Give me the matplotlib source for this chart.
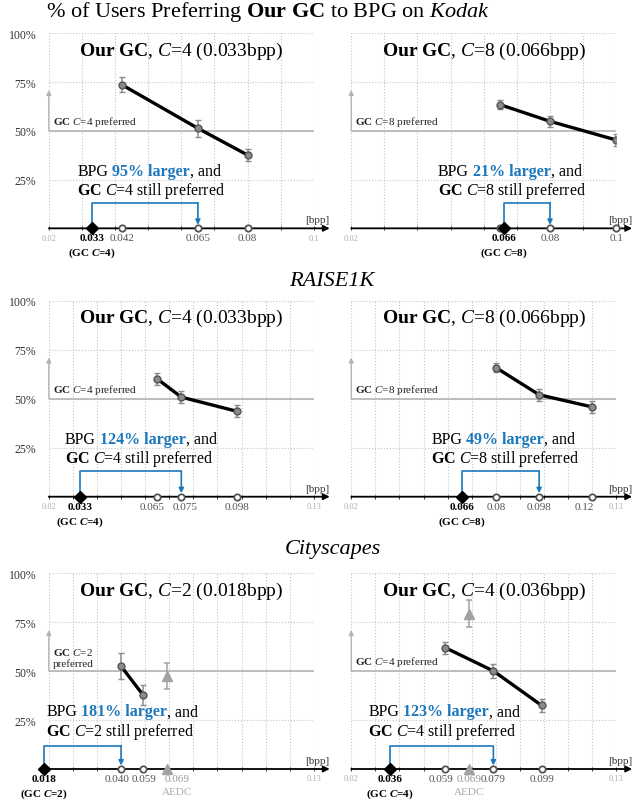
import matplotlib.pyplot as plt

plt.rcParams['font.family'] = ['Liberation Serif', 'DejaVu Serif']
plt.rcParams['mathtext.fontset'] = 'custom'
plt.rcParams['mathtext.rm'] = 'Liberation Serif'
plt.rcParams['mathtext.it'] = 'Liberation Serif:italic'
plt.rcParams['mathtext.bf'] = 'Liberation Serif:bold'
plt.rcParams['mathtext.bfit'] = 'Liberation Serif:italic:bold'

BLUE = '#1b78bd'
DARK = '#555555'
LIGHT = '#ababab'
REF = '#b4b4b4'

# Kodak, C=4
kodak4_gc_bpp = 0.033
kodak4_bpg_bpp = [0.042, 0.065, 0.08]
kodak4_labels = ['0.042', '0.065', '0.08']
kodak4_pref = [73.7, 51.3, 37.6]
kodak4_err = [3.8, 4.4, 3.0]
kodak4_larger = 95
kodak4_match = 0.065

# Kodak, C=8
kodak8_gc_bpp = 0.066
kodak8_bpg_bpp = [0.065, 0.08, 0.1]
kodak8_labels = ['', '0.08', '0.1']
kodak8_pref = [63.4, 54.9, 45.3]
kodak8_err = [2.4, 2.8, 2.9]
kodak8_larger = 21
kodak8_match = 0.08

# RAISE1K, C=4
raise4_gc_bpp = 0.033
raise4_bpg_bpp = [0.065, 0.075, 0.098]
raise4_labels = ['0.065', '0.075', '0.098']
raise4_pref = [60.1, 50.8, 43.6]
raise4_err = [3.0, 3.2, 3.1]
raise4_larger = 124
raise4_match = 0.075

# RAISE1K, C=8
raise8_gc_bpp = 0.066
raise8_bpg_bpp = [0.08, 0.098, 0.12]
raise8_labels = ['0.08', '0.098', '0.12']
raise8_pref = [65.9, 52.0, 45.8]
raise8_err = [2.3, 3.1, 3.1]
raise8_larger = 49
raise8_match = 0.098

# Cityscapes, C=2
city2_gc_bpp = 0.018
city2_bpg_bpp = [0.05, 0.059]
city2_labels = ['0.040', '0.059']
city2_pref = [52.5, 38.0]
city2_err = [6.7, 5.1]
city2_aedc = (0.069, 47.7, 6.7)
city2_larger = 181
city2_match = 0.05

# Cityscapes, C=4
city4_gc_bpp = 0.036
city4_bpg_bpp = [0.059, 0.079, 0.099]
city4_labels = ['0.059', '0.079', '0.099']
city4_pref = [62.0, 50.1, 32.5]
city4_err = [3.1, 3.4, 3.5]
city4_aedc = (0.069, 79.4, 7.0)
city4_larger = 123
city4_match = 0.079


def panel(ax, c, gc_bpp, bpp, labels, pref, err, larger, match, xmax,
          edge_ticks, text_x, bracket_y=13, aedc=None, left=True,
          pref_text=None, nudge=None, aedc_nudge=0):
    ax.set_xlim(0.02, xmax)
    ax.set_ylim(0, 100)
    n = int(round((xmax - 0.02) / 0.01))
    ax.set_xticks([0.02 + 0.01 * i for i in range(n + 1)])
    ax.set_yticks([25, 50, 75, 100])
    ax.grid(True, ls=':', color='#c4c4c4', lw=0.8)
    for s in ax.spines.values():
        s.set_visible(False)
    ax.tick_params(axis='x', direction='inout', length=3, width=0.7,
                   color='#333333', labelbottom=False)
    ax.tick_params(axis='y', length=0, pad=9, labelsize=8.5,
                   labelcolor='#333333', labelleft=left)
    if left:
        ax.set_yticklabels(['25%', '50%', '75%', '100%'])

    # x axis with arrow
    x_end = xmax + 0.06 * (xmax - 0.02)
    x_start = min(0.02, gc_bpp)
    ax.annotate('', xy=(x_end, 0), xytext=(x_start, 0),
                arrowprops=dict(arrowstyle='-|>', color='black', lw=1.3,
                                mutation_scale=9, shrinkA=0, shrinkB=0),
                annotation_clip=False, zorder=3)
    ax.text(x_end, 3, '[bpp]', ha='right', va='baseline', fontsize=8,
            color='#333333')

    # 50% reference and "preferred" arrow
    ax.plot([0.02, xmax], [50, 50], color=REF, lw=1.2, zorder=2)
    ax.annotate('', xy=(0.02, 71), xytext=(0.02, 50),
                arrowprops=dict(arrowstyle='-|>', color=REF, lw=1.0,
                                mutation_scale=7, shrinkA=0, shrinkB=0),
                annotation_clip=False)
    if pref_text is None:
        pref_text = r'$\mathbf{GC}$ $\mathit{C}$=%d preferred' % c
    ax.annotate(pref_text, xy=(0.02, 51.5), xytext=(3, 0),
                textcoords='offset points', ha='left', va='bottom',
                fontsize=8, color='#222222')

    # panel title
    ax.text((0.02 + xmax) / 2, 91.5,
            r'$\mathbf{Our\ GC}$, $\mathit{C}$=%d (%sbpp)' % (c, gc_bpp),
            ha='center', va='center', fontsize=14)

    # BPG curve
    ax.errorbar(bpp, pref, yerr=err, color='black', lw=2.4, marker='o',
                ms=5, mfc='#8a8a8a', mec='#555555', mew=1,
                ecolor='#8c8c8c', elinewidth=1.1, capsize=2.2, capthick=1.1,
                zorder=4)
    ax.plot(bpp, [0] * len(bpp), 'o', ms=4.6, mfc='white', mec='#555555',
            mew=1.3, clip_on=False, zorder=5)
    if nudge is None:
        nudge = [0] * len(bpp)
    for b, lab, dx in zip(bpp, labels, nudge):
        ax.annotate(lab, xy=(b, -2.5), xytext=(dx, 0),
                    textcoords='offset points', ha='center', va='top',
                    fontsize=8, color=DARK, annotation_clip=False)

    # AEDC
    if aedc is not None:
        ax.errorbar([aedc[0]], [aedc[1]], yerr=[aedc[2]], color='#a2a2a2',
                    marker='^', ms=7, elinewidth=1.1, capsize=2.2,
                    capthick=1.1, zorder=4)
        ax.plot([aedc[0]], [0], '^', ms=6.5, color='#a2a2a2',
                clip_on=False, zorder=5)
        ax.annotate('%.3f' % aedc[0], xy=(aedc[0], -2.5),
                    xytext=(aedc_nudge, 0), textcoords='offset points',
                    ha='center', va='top', fontsize=8, color='#9a9a9a',
                    annotation_clip=False)
        ax.annotate('AEDC', xy=(aedc[0], -9), xytext=(aedc_nudge, 0),
                    textcoords='offset points', ha='center', va='top',
                    fontsize=8, color='#aaaaaa', annotation_clip=False)

    for e in edge_ticks:
        ax.text(e, -2.8, '%g' % e, ha='center', va='top', fontsize=6,
                color=LIGHT)

    # GC point
    ax.plot([gc_bpp], [0], 'D', ms=6.5, color='black', clip_on=False,
            zorder=6)
    ax.text(gc_bpp, -2.5, '%s' % gc_bpp, ha='center', va='top',
            fontsize=8, fontweight='bold')
    ax.text(gc_bpp, -9, r'(GC $\mathbfit{C}$=%d)' % c, ha='center',
            va='top', fontsize=8, fontweight='bold')

    # bracket from GC bpp to matching BPG bpp
    ax.plot([gc_bpp, gc_bpp, match], [0, bracket_y, bracket_y], color=BLUE,
            lw=1.2, clip_on=False, zorder=5)
    ax.annotate('', xy=(match, 1.8), xytext=(match, bracket_y),
                arrowprops=dict(arrowstyle='-|>', color=BLUE, lw=1.2,
                                mutation_scale=7, shrinkA=0, shrinkB=0),
                zorder=5)

    # annotation text
    t1 = ax.text(text_x, 27.4, 'BPG', ha='left', va='baseline', fontsize=11.5)
    t2 = ax.annotate('%d%% larger' % larger, xy=(1, 0), xycoords=t1,
                     xytext=(3, 0), textcoords='offset points', ha='left',
                     va='bottom', fontsize=11.5, fontweight='bold',
                     color=BLUE)
    ax.annotate(', and', xy=(1, 0), xycoords=t2, ha='left', va='bottom',
                fontsize=11.5)
    ax.text(text_x, 17.6, r'$\mathbf{GC}$ $\mathit{C}$=%d still preferred' % c,
            ha='left', va='baseline', fontsize=11.5)


fig = plt.figure(figsize=(6.34, 8.03), dpi=100)

rows = [(0.7144, 0.2428), (0.3802, 0.2441), (0.0411, 0.2437)]
cols = [(0.077, 0.418), (0.554, 0.418)]

ax = fig.add_axes([cols[0][0], rows[0][0], cols[0][1], rows[0][1]])
panel(ax, 4, kodak4_gc_bpp, kodak4_bpg_bpp, kodak4_labels, kodak4_pref,
      kodak4_err, kodak4_larger, kodak4_match, 0.1, [0.02, 0.1], 0.0286)

ax = fig.add_axes([cols[1][0], rows[0][0], cols[1][1], rows[0][1]])
panel(ax, 8, kodak8_gc_bpp, kodak8_bpg_bpp, kodak8_labels, kodak8_pref,
      kodak8_err, kodak8_larger, kodak8_match, 0.1, [0.02], 0.0461,
      left=False)

ax = fig.add_axes([cols[0][0], rows[1][0], cols[0][1], rows[1][1]])
panel(ax, 4, raise4_gc_bpp, raise4_bpg_bpp, raise4_labels, raise4_pref,
      raise4_err, raise4_larger, raise4_match, 0.13, [0.02, 0.13], 0.0266,
      nudge=[-4, 3, 0])

ax = fig.add_axes([cols[1][0], rows[1][0], cols[1][1], rows[1][1]])
panel(ax, 8, raise8_gc_bpp, raise8_bpg_bpp, raise8_labels, raise8_pref,
      raise8_err, raise8_larger, raise8_match, 0.13, [0.02, 0.13], 0.0532,
      left=False, nudge=[0, 0, -6])

ax = fig.add_axes([cols[0][0], rows[2][0], cols[0][1], rows[2][1]])
panel(ax, 2, city2_gc_bpp, city2_bpg_bpp, city2_labels, city2_pref,
      city2_err, city2_larger, city2_match, 0.13, [0.13], 0.019,
      bracket_y=12, aedc=city2_aedc, nudge=[-3, 1, 0], aedc_nudge=7,
      pref_text='$\\mathbf{GC}$ $\\mathit{C}$=2\npreferred')

ax = fig.add_axes([cols[1][0], rows[2][0], cols[1][1], rows[2][1]])
panel(ax, 4, city4_gc_bpp, city4_bpg_bpp, city4_labels, city4_pref,
      city4_err, city4_larger, city4_match, 0.13, [0.02, 0.13], 0.027,
      bracket_y=11.5, aedc=city4_aedc, left=False, nudge=[-3, 0, 0])

fig.text(0.423, 0.985,
         r'% of Users Preferring $\mathbf{Our\ GC}$ to BPG on $\mathit{Kodak}$',
         ha='center', va='center', fontsize=16)
fig.text(0.524, 0.650, 'RAISE1K', ha='center', va='center', fontsize=16,
         style='italic')
fig.text(0.525, 0.316, 'Cityscapes', ha='center', va='center', fontsize=16,
         style='italic')

fig.savefig('out.png', dpi=100)
